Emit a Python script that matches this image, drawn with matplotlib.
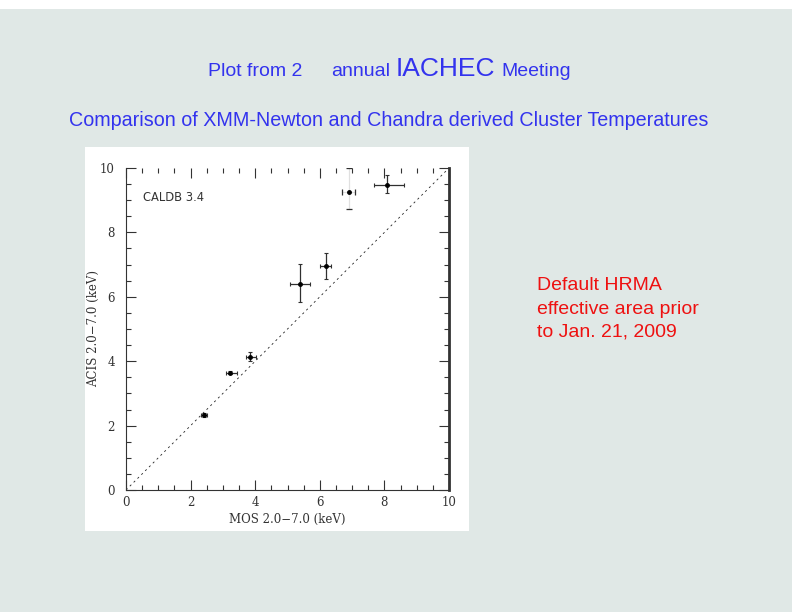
import matplotlib
matplotlib.use("Agg")
import matplotlib.pyplot as plt
from matplotlib.patches import Rectangle
from matplotlib.ticker import MultipleLocator

# Data (MOS vs ACIS temperatures, keV)
mos = [2.41, 3.22, 3.85, 5.40, 6.20, 6.91, 8.09]
acis = [2.34, 3.64, 4.14, 6.41, 6.96, 9.25, 9.46]
mos_lo = [0.09, 0.12, 0.13, 0.31, 0.18, 0.21, 0.41]
mos_hi = [0.11, 0.21, 0.17, 0.29, 0.14, 0.19, 0.51]
acis_lo = [0.08, 0.05, 0.14, 0.58, 0.40, 0.51, 0.25]
acis_hi = [0.06, 0.05, 0.15, 0.62, 0.39, 0.75, 0.33]
ticks = [0, 2, 4, 6, 8, 10]
diag = [0, 10]

BG = "#e0e8e6"
BLUE = "#3333ee"
RED = "#ee1111"
INK = "#333333"

fig = plt.figure(figsize=(7.92, 6.12), dpi=100)
fig.patch.set_facecolor(BG)
fig.patches.append(Rectangle((0, 1 - 9 / 612), 1, 9 / 612, transform=fig.transFigure,
                             facecolor="white", edgecolor="none", zorder=-5))
fig.patches.append(Rectangle((85 / 792, (612 - 531) / 612), 384 / 792, 384 / 612,
                             transform=fig.transFigure, facecolor="white",
                             edgecolor="none", zorder=-5))

sans = ["Liberation Sans", "DejaVu Sans"]
# Title line 1
y1 = 1 - 76 / 612
fig.text(208 / 792, y1, "Plot from 2", color=BLUE, fontsize=14, family=sans, va="baseline")
fig.text(331 / 792, y1, "annual", color=BLUE, fontsize=14, family=sans, va="baseline")
fig.text(396 / 792, y1, "IACHEC", color=BLUE, fontsize=19, family=sans, va="baseline")
fig.text(501 / 792, y1, "Meeting", color=BLUE, fontsize=14, family=sans, va="baseline")
fig.text(389 / 792, 1 - 126 / 612,
         "Comparison of XMM-Newton and Chandra derived Cluster Temperatures",
         color=BLUE, fontsize=14.2, family=sans, ha="center", va="baseline")
for i, line in enumerate(["Default HRMA", "effective area prior", "to Jan. 21, 2009"]):
    fig.text(537 / 792, 1 - (290.5 + 23 * i) / 612, line, color=RED, fontsize=14,
             family=sans, va="baseline")

ax = fig.add_axes([126 / 792, (612 - 490) / 612, 323 / 792, 322 / 612])
ax.set_zorder(2)
ax.set_facecolor("white")
ax.set_xlim(0, 10)
ax.set_ylim(0, 10)

ax.plot(diag, diag, color="#222222", lw=0.6, ls=(0, (2.5, 4)))

# error bars
for i in range(len(mos)):
    light = (i == 5)
    ec = "#e0e0e0" if light else "#303030"
    ax.errorbar([mos[i]], [acis[i]], xerr=[[mos_lo[i]], [mos_hi[i]]],
                yerr=[[acis_lo[i]], [acis_hi[i]]], fmt="none", ecolor=ec,
                elinewidth=0.9, capsize=1.5, capthick=0.8)
    if light:
        ax.errorbar([mos[i]], [acis[i]], xerr=[[mos_lo[i]], [mos_hi[i]]],
                    yerr=[[acis_lo[i]], [acis_hi[i]]], fmt="none", ecolor="#303030",
                    elinewidth=0, capsize=2.5, capthick=0.9)
ax.plot(mos, acis, "o", color="black", ms=2.5, ls="none")

ax.text(0.54, 9.09, "CALDB 3.4", fontsize=8.3, family=["DejaVu Sans"], color=INK,
        va="center", ha="left")

ax.xaxis.set_major_locator(MultipleLocator(2))
ax.yaxis.set_major_locator(MultipleLocator(2))
ax.xaxis.set_minor_locator(MultipleLocator(0.5))
ax.yaxis.set_minor_locator(MultipleLocator(0.5))
ax.tick_params(which="both", direction="in", top=True, right=True, colors=INK,
               labelsize=8.5, width=0.8)
ax.tick_params(which="major", length=7)
ax.tick_params(which="minor", length=3.5)
ax.set_xticks(ticks)
ax.set_yticks(ticks)
ax.set_xticklabels([str(t) for t in ticks], family=["DejaVu Serif"])
ax.set_yticklabels([str(t) for t in ticks], family=["DejaVu Serif"])
ax.tick_params(axis="x", pad=4)
ax.tick_params(axis="y", pad=8)

ax.spines["top"].set_visible(False)
ax.spines["right"].set_linewidth(2)
for s in ["left", "bottom"]:
    ax.spines[s].set_linewidth(0.8)
for s in ax.spines.values():
    s.set_color(INK)

ax.set_xlabel("MOS 2.0\u22127.0 (keV)", fontsize=8.5, family=["DejaVu Serif"],
              labelpad=3, color=INK)
ax.set_ylabel("ACIS 2.0\u22127.0 (keV)", fontsize=8.5, family=["DejaVu Serif"],
              labelpad=0, color=INK)

fig.savefig("out.png", dpi=100, facecolor=BG)
